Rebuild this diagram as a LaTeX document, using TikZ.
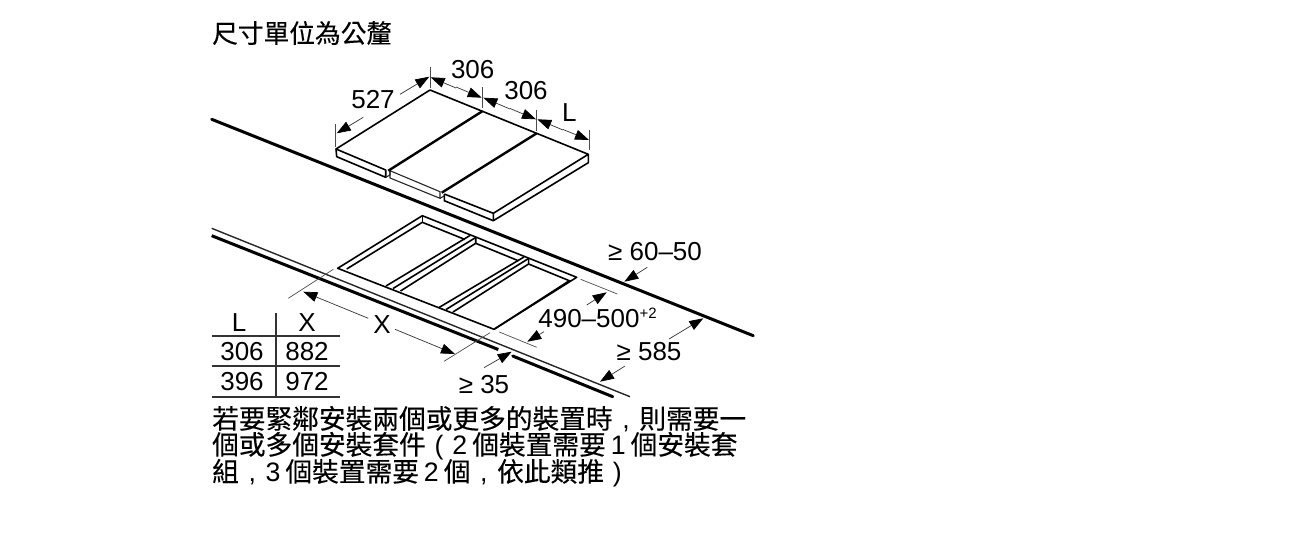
\documentclass[tikz,border=0pt]{standalone}
\usepackage{fontspec}
\setmainfont{Liberation Sans}
\newfontfamily\cjk[FakeBold=0.25]{Noto Sans CJK TC}
\newfontfamily\lat{Liberation Sans}
\usetikzlibrary{arrows.meta}
\newcommand{\pc}[1]{\makebox[1em][c]{\lat #1}}
\newcommand{\dga}[1]{{\lat #1}\kern5pt\relax}
\newcommand{\dgb}[1]{\kern5pt{\lat #1}\kern5pt\relax}
\tikzset{
 thin line/.style={line width=1.1pt,black!85},
 med line/.style={line width=1.6pt,black},
 thick line/.style={line width=3pt,black,line cap=round},
 ext line/.style={line width=.7pt,black!70},
 dim/.style={line width=.7pt,black!80,-{Triangle[length=14pt,width=10pt,black]}},
 lab/.style={font=\fontsize{26}{26}\selectfont,inner sep=0pt,anchor=center},
 tab/.style={font=\fontsize{26}{26}\selectfont,inner sep=0pt,anchor=center},
 cjktext/.style={font=\cjk\fontsize{26.7}{26.7}\selectfont,inner sep=0pt,anchor=west},
}
\begin{document}
\begin{tikzpicture}[x=1pt,y=-1pt]
\useasboundingbox (0,0) rectangle (1300,536);
% panels
\draw[med line,line join=round] (430,90)--(588.3,154.3)--(493.3,213.3)--(493.3,220.7)--(588.3,162.7)--(588.3,154.3);
\draw[med line,line join=round] (430,90)--(336,149)--(336.7,156.7)--(385.7,177.3)--(385.7,170)--(336,149);
\draw[thin line] (385.7,177.3)--(390,175)--(390,170.7);
\draw[thin line] (390,170.7)--(390,178)--(440,198.3)--(440,191.7)--(390,170.7);
\draw[thin line] (440,198.3)--(444.3,196)--(444.3,194);
\draw[med line] (444.3,194)--(444.3,200.7)--(493.3,220.7);
\draw[med line] (444.3,194)--(493.3,213.3);
\draw[line width=2.4pt] (482.7,111)--(388.3,170.7);
\draw[line width=2.4pt] (536.7,133.3)--(441.7,192.7);
% counter lines
\draw[thick line] (211.7,119.3)--(753.3,335.7);
\draw[thin line,line width=1.4pt] (211.7,228.3)--(630,396.7);
\draw[thick line,line cap=butt] (211.7,235.7)--(498.3,349.5);
\draw[thick line] (512.7,356)--(612.7,396.7);
% cut-out
\draw[med line,line join=round] (337.7,268.3)--(422.3,215.7)--(576.7,277.3)--(494,329.3)--cycle;
\draw[med line,line join=round] (346.7,269)--(422.3,222.3)--(465,239.5);
\draw[med line] (422.3,215.7)--(422.3,222.3);
\draw[med line] (470,235.5)--(386,286);
\draw[med line] (475.7,237.5)--(393,288.5);
\draw[med line] (475.7,237.5)--(475.7,243.3)--(400.5,291);
\draw[med line] (475.7,243.3)--(518.3,260.7);
\draw[med line] (524,257)--(439,307.5);
\draw[med line] (528.6,258.5)--(446,309.5);
\draw[med line] (528.6,258.5)--(528.6,264)--(453,312);
\draw[med line] (528.6,264)--(569.3,280.7)--(494,329.3);
% extension lines
\coordinate (e1a) at (430,66.7); \coordinate (e1b) at (430,88);
\draw[ext line] (e1a)--(e1b);
\draw[ext line] (482.7,87.3)--(482.7,108);
\draw[ext line] (536.7,110)--(536.7,131);
\draw[ext line] (589.3,130)--(589.3,150);
\draw[ext line] (335.7,124)--(335.7,147);
\draw[ext line] (333.3,269.3)--(288.3,298.3);
\draw[ext line] (490,332.7)--(444,361.3);
\draw[ext line] (580.7,279.3)--(617.3,294);
\draw[ext line] (499.3,332)--(536.7,347.3);
% dimension arrows
\draw[dim] (456,88)--(430.7,77.3);
\draw[dim] (456,87)--(481.7,97.7);
\draw[dim] (510,109)--(483.3,97.7);
\draw[dim] (510,108.5)--(536,119.3);
\draw[dim] (563,130)--(537.3,119.3);
\draw[dim] (563,129.5)--(589,140);
\draw[dim] (400,94.3)--(429.3,76.7);
\draw[dim] (363.3,117.3)--(336.7,133.3);
\draw[dim] (368.3,318.3)--(303.3,291.7);
\draw[dim] (395,329.3)--(455,354);
\draw[dim] (484,367.7)--(511.7,351.7);
\draw[dim] (586.7,305)--(606.7,292.3);
\draw[dim] (544,331.7)--(527.3,341.7);
\draw[dim] (647.3,267.3)--(624.3,281.7);
\draw[dim] (669,339)--(703.3,318.3);
\draw[dim] (625,366)--(600,381.7);
% labels
\node[lab] (l527) at (373,100) {527};
\node[lab] (l306a) at (472.7,69.3) {306};
\node[lab] (l306b) at (526,90.7) {306};
\node[lab] (lL) at (569.3,112.3) {L};
\node[lab] (l6050) at (655,252) {≥ 60–50};
\node[lab] (l490) at (597.5,318) {490–500\raisebox{9pt}{\fontsize{15}{15}\selectfont +2}};
\node[lab] (l585) at (649,352) {≥ 585};
\node[lab] (l35) at (484,385) {≥ 35};
\node[lab] (lX) at (382,325) {X};
% table
\draw[line width=1.2pt,black!80] (276,313)--(276,397);
\draw[line width=1.2pt,black!80] (212,336)--(340,336);
\draw[line width=1.2pt,black!80] (212,366)--(340,366);
\draw[line width=1.2pt,black!80] (212,397)--(340,397);
\node[tab] (tL) at (239,323) {L};
\node[tab] (tX) at (307,323) {X};
\node[tab] (t1) at (242,352) {306};
\node[tab] (t2) at (307,352) {882};
\node[tab] (t3) at (242,382) {396};
\node[tab] (t4) at (307,382) {972};
% texts
\node[cjktext,font=\cjk\fontsize{25.7}{25.7}\selectfont] (title) at (212,33) {尺寸單位為公釐};
\node[cjktext] (p1) at (212,419) {若要緊鄰安裝兩個或更多的裝置時\pc{,}則需要一};
\node[cjktext] (p2) at (212,446) {個或多個安裝套件\pc{(}\dga{2}個裝置需要\dgb{1}個安裝套};
\node[cjktext] (p3) at (212,473) {組\pc{,}\dga{3}個裝置需要\dgb{2}個\pc{,}依此類推\pc{)}};
\end{tikzpicture}
\end{document}
